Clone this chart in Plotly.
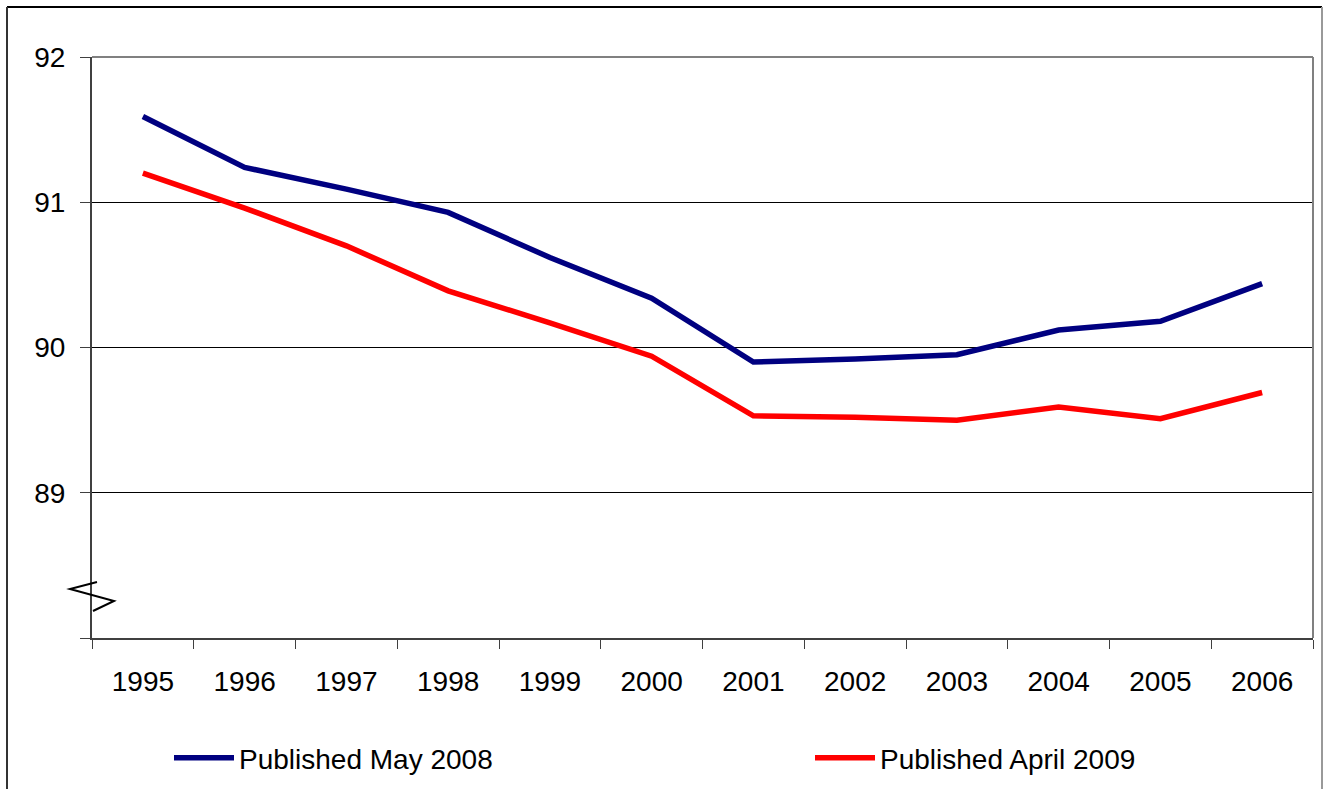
import plotly.graph_objects as go

years = ["1995", "1996", "1997", "1998", "1999", "2000", "2001", "2002", "2003", "2004", "2005", "2006"]
may_2008 = [91.59, 91.24, 91.09, 90.93, 90.62, 90.34, 89.90, 89.92, 89.95, 90.12, 90.18, 90.44]
april_2009 = [91.20, 90.96, 90.70, 90.39, 90.17, 89.94, 89.53, 89.52, 89.50, 89.59, 89.51, 89.69]
y_ticks = [88, 89, 90, 91, 92]
y_ticktext = ["", "89", "90", "91", "92"]

W, H = 1325, 789
L, R, T, B = 92, 1313, 57, 638


def px(x):
    return (x - L) / (R - L)


def py(y):
    return (B - y) / (B - T)


fig = go.Figure()
fig.add_trace(go.Scatter(x=years, y=may_2008, mode="lines", name="Published May 2008",
                         line=dict(color="#000080", width=5.5), legend="legend"))
fig.add_trace(go.Scatter(x=years, y=april_2009, mode="lines", name="Published April 2009",
                         line=dict(color="#FF0000", width=5.5), legend="legend2"))

font = dict(family="Liberation Sans, Arial, sans-serif", size=28, color="black")

shapes = [
    dict(type="line", xref="paper", yref="paper", x0=0, x1=1, y0=1, y1=1,
         line=dict(color="#808080", width=2)),
    dict(type="line", xref="paper", yref="paper", x0=1, x1=1, y0=0, y1=1,
         line=dict(color="#808080", width=2)),
    dict(type="line", xref="paper", yref="paper", x0=px(7), x1=px(1322), y0=py(7), y1=py(7),
         line=dict(color="black", width=2)),
    dict(type="line", xref="paper", yref="paper", x0=px(7), x1=px(7), y0=py(7), y1=py(800),
         line=dict(color="#333333", width=2)),
    dict(type="line", xref="paper", yref="paper", x0=px(1322), x1=px(1322), y0=py(7), y1=py(800),
         line=dict(color="#999999", width=2)),
    dict(type="path", xref="paper", yref="paper",
         path="M {} {} L {} {} L {} {} L {} {}".format(
             px(97), py(582), px(70), py(589), px(114), py(601), px(93), py(611)),
         line=dict(color="black", width=2)),
]

legend_common = dict(orientation="h", xanchor="left", yanchor="top",
                     font=font, bgcolor="rgba(0,0,0,0)", itemwidth=60)

fig.update_layout(
    width=W, height=H,
    margin=dict(l=L, r=W - R, t=T, b=H - B, autoexpand=False),
    paper_bgcolor="white", plot_bgcolor="white",
    font=font,
    showlegend=True,
    legend=dict(x=px(169), y=py(733), **legend_common),
    legend2=dict(x=px(810), y=py(733), **legend_common),
    shapes=shapes,
    xaxis=dict(type="category", range=[-0.5, 11.5], tickson="boundaries",
               ticks="outside", ticklen=9, tickcolor="#404040", tickwidth=1,
               showline=True, linecolor="#404040", linewidth=2,
               showgrid=False, zeroline=False, ticklabelstandoff=17,
               tickfont=font),
    yaxis=dict(range=[88, 92], tickvals=y_ticks, ticktext=y_ticktext,
               ticks="outside", ticklen=10, tickcolor="#404040", tickwidth=1,
               showline=True, linecolor="#404040", linewidth=2,
               showgrid=True, gridcolor="black", gridwidth=1, zeroline=False,
               ticklabelstandoff=9, tickfont=font),
)

fig.write_html("out.html", config={"displayModeBar": False},
               post_script="document.body.style.margin='0';document.body.style.overflow='hidden';")
